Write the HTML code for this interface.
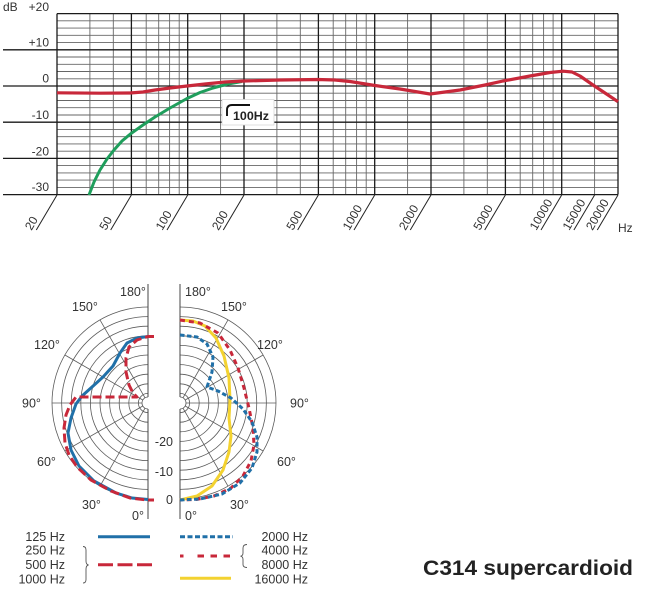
<!DOCTYPE html>
<html>
<head>
<meta charset="utf-8">
<style>
  html,body{margin:0;padding:0;background:#fff;}
  svg{display:block;font-family:"Liberation Sans",Arial,sans-serif;}
</style>
</head>
<body>
<svg width="650" height="600" viewBox="0 0 650 600" xmlns="http://www.w3.org/2000/svg">
  <rect width="650" height="600" fill="#fff"/>

  <!-- ===== Frequency response chart ===== -->
  <g stroke="#666" stroke-width="0.9" fill="none">
    <!-- minor horizontal -->
    <line x1="57" y1="20.8" x2="618" y2="20.8"/>
    <line x1="57" y1="28.1" x2="618" y2="28.1"/>
    <line x1="57" y1="35.3" x2="618" y2="35.3"/>
    <line x1="57" y1="42.6" x2="618" y2="42.6"/>
    <line x1="57" y1="57.0" x2="618" y2="57.0"/>
    <line x1="57" y1="64.3" x2="618" y2="64.3"/>
    <line x1="57" y1="71.5" x2="618" y2="71.5"/>
    <line x1="57" y1="78.8" x2="618" y2="78.8"/>
    <line x1="57" y1="93.2" x2="618" y2="93.2"/>
    <line x1="57" y1="100.5" x2="618" y2="100.5"/>
    <line x1="57" y1="107.7" x2="618" y2="107.7"/>
    <line x1="57" y1="115.0" x2="618" y2="115.0"/>
    <line x1="57" y1="129.4" x2="618" y2="129.4"/>
    <line x1="57" y1="136.7" x2="618" y2="136.7"/>
    <line x1="57" y1="143.9" x2="618" y2="143.9"/>
    <line x1="57" y1="151.2" x2="618" y2="151.2"/>
    <line x1="57" y1="165.6" x2="618" y2="165.6"/>
    <line x1="57" y1="172.9" x2="618" y2="172.9"/>
    <line x1="57" y1="180.1" x2="618" y2="180.1"/>
    <line x1="57" y1="187.4" x2="618" y2="187.4"/>
    <!-- minor vertical -->
    <line x1="89.9" y1="13.6" x2="89.9" y2="194.6"/>
    <line x1="113.3" y1="13.6" x2="113.3" y2="194.6"/>
    <line x1="146.2" y1="13.6" x2="146.2" y2="194.6"/>
    <line x1="158.7" y1="13.6" x2="158.7" y2="194.6"/>
    <line x1="169.6" y1="13.6" x2="169.6" y2="194.6"/>
    <line x1="179.2" y1="13.6" x2="179.2" y2="194.6"/>
    <line x1="220.6" y1="13.6" x2="220.6" y2="194.6"/>
    <line x1="276.9" y1="13.6" x2="276.9" y2="194.6"/>
    <line x1="300.3" y1="13.6" x2="300.3" y2="194.6"/>
    <line x1="333.2" y1="13.6" x2="333.2" y2="194.6"/>
    <line x1="345.7" y1="13.6" x2="345.7" y2="194.6"/>
    <line x1="356.6" y1="13.6" x2="356.6" y2="194.6"/>
    <line x1="366.2" y1="13.6" x2="366.2" y2="194.6"/>
    <line x1="407.6" y1="13.6" x2="407.6" y2="194.6"/>
    <line x1="463.9" y1="13.6" x2="463.9" y2="194.6"/>
    <line x1="487.3" y1="13.6" x2="487.3" y2="194.6"/>
    <line x1="520.2" y1="13.6" x2="520.2" y2="194.6"/>
    <line x1="532.7" y1="13.6" x2="532.7" y2="194.6"/>
    <line x1="543.6" y1="13.6" x2="543.6" y2="194.6"/>
    <line x1="553.1" y1="13.6" x2="553.1" y2="194.6"/>
    <line x1="594.6" y1="13.6" x2="594.6" y2="194.6"/>
  </g>
  <g stroke="#1a1a1a" stroke-width="1.3" fill="none">
    <!-- major horizontal -->
    <line x1="57" y1="13.6" x2="618" y2="13.6"/>
    <line x1="3" y1="49.8" x2="618" y2="49.8"/>
    <line x1="3" y1="86" x2="618" y2="86"/>
    <line x1="3" y1="122.2" x2="618" y2="122.2"/>
    <line x1="3" y1="158.4" x2="618" y2="158.4"/>
    <line x1="3" y1="194.6" x2="618" y2="194.6"/>
    <!-- major vertical -->
    <line x1="57" y1="13.6" x2="57" y2="194.6"/>
    <line x1="131.4" y1="13.6" x2="131.4" y2="194.6"/>
    <line x1="187.7" y1="13.6" x2="187.7" y2="194.6"/>
    <line x1="244" y1="13.6" x2="244" y2="194.6"/>
    <line x1="318.4" y1="13.6" x2="318.4" y2="194.6"/>
    <line x1="374.7" y1="13.6" x2="374.7" y2="194.6"/>
    <line x1="431" y1="13.6" x2="431" y2="194.6"/>
    <line x1="505.4" y1="13.6" x2="505.4" y2="194.6"/>
    <line x1="561.7" y1="13.6" x2="561.7" y2="194.6"/>
    <line x1="618" y1="13.6" x2="618" y2="194.6"/>
  </g>
  <!-- tick slashes -->
  <g stroke="#222" stroke-width="1" fill="none">
    <line x1="57" y1="195" x2="36.3" y2="230"/>
    <line x1="131.4" y1="195" x2="110.7" y2="230"/>
    <line x1="187.7" y1="195" x2="167" y2="230"/>
    <line x1="244" y1="195" x2="223.3" y2="230"/>
    <line x1="318.4" y1="195" x2="297.7" y2="230"/>
    <line x1="374.7" y1="195" x2="354" y2="230"/>
    <line x1="431" y1="195" x2="410.3" y2="230"/>
    <line x1="505.4" y1="195" x2="484.7" y2="230"/>
    <line x1="561.7" y1="195" x2="541" y2="230"/>
    <line x1="594.6" y1="195" x2="573.9" y2="230"/>
    <line x1="618" y1="195" x2="597.3" y2="230"/>
  </g>
  <g font-size="12" fill="#333">
    <text transform="translate(31.5,231) rotate(-60)">20</text>
    <text transform="translate(105.9,231) rotate(-60)">50</text>
    <text transform="translate(162.2,231) rotate(-60)">100</text>
    <text transform="translate(218.5,231) rotate(-60)">200</text>
    <text transform="translate(292.9,231) rotate(-60)">500</text>
    <text transform="translate(349.2,231) rotate(-60)">1000</text>
    <text transform="translate(405.5,231) rotate(-60)">2000</text>
    <text transform="translate(479.9,231) rotate(-60)">5000</text>
    <text transform="translate(536.2,231) rotate(-60)">10000</text>
    <text transform="translate(569.1,231) rotate(-60)">15000</text>
    <text transform="translate(592.5,231) rotate(-60)">20000</text>
    <text x="618" y="232">Hz</text>
    <text x="3" y="11">dB</text>
    <text x="49" y="11" text-anchor="end">+20</text>
    <text x="49" y="46.5" text-anchor="end">+10</text>
    <text x="49" y="82.5" text-anchor="end">0</text>
    <text x="49" y="119" text-anchor="end">-10</text>
    <text x="49" y="155.5" text-anchor="end">-20</text>
    <text x="49" y="191" text-anchor="end">-30</text>
  </g>
  <!-- 100Hz label -->
  <rect x="222" y="99.5" width="52" height="25.5" fill="#fff" stroke="#d8d8d8" stroke-width="0.8"/>
  <path d="M227,116 L227,110 Q227,105 232,105 L250,105" stroke="#111" stroke-width="1.9" fill="none"/>
  <text x="233" y="120" font-size="12" font-weight="bold" fill="#222" textLength="36" lengthAdjust="spacingAndGlyphs">100Hz</text>

  <!-- curves -->
  <polyline fill="none" stroke="#1f9e5c" stroke-width="3" stroke-linejoin="round"
    points="89,195 94,182 100,170 107,159 114,150 122,141 131,133.5 143,125 155,117 170,108 187,98.5 200,92.5 213,88 228,84 242,81.5"/>
  <polyline fill="none" stroke="#c8283a" stroke-width="3.2" stroke-linejoin="round"
    points="57,92.8 100,93.2 130,93 143,92 155,90 170,88 187,86 205,84 225,82 244,81 280,80 318,79.5 335,80 350,81.5 375,85.5 400,89 430,94 460,90 485,85 503,81 530,76 550,72.5 563,71.2 572,72 580,76 593,85 605,93 618,101.7"/>

  <!-- ===== Polar plots ===== -->
  <g stroke="#5a5a5a" stroke-width="0.8" fill="none">
    <!-- left rings -->
    <path d="M148,393.4 A9.6,9.6 0 0 0 148,412.6"/>
    <path d="M148,383.8 A19.2,19.2 0 0 0 148,422.2"/>
    <path d="M148,374.2 A28.8,28.8 0 0 0 148,431.8"/>
    <path d="M148,364.6 A38.4,38.4 0 0 0 148,441.4"/>
    <path d="M148,355 A48,48 0 0 0 148,451"/>
    <path d="M148,345.4 A57.6,57.6 0 0 0 148,460.6"/>
    <path d="M148,335.8 A67.2,67.2 0 0 0 148,470.2"/>
    <path d="M148,326.2 A76.8,76.8 0 0 0 148,479.8"/>
    <path d="M148,316.6 A86.4,86.4 0 0 0 148,489.4"/>
    <path d="M148,307 A96,96 0 0 0 148,499"/>
    <!-- left rays -->
    <line x1="145" y1="408.2" x2="100" y2="486.1"/>
    <line x1="142.8" y1="406" x2="64.9" y2="451"/>
    <line x1="142" y1="403" x2="52" y2="403"/>
    <line x1="142.8" y1="400" x2="64.9" y2="355"/>
    <line x1="145" y1="397.8" x2="100" y2="319.9"/>
    <!-- right rings -->
    <path d="M180,393.4 A9.6,9.6 0 0 1 180,412.6"/>
    <path d="M180,383.8 A19.2,19.2 0 0 1 180,422.2"/>
    <path d="M180,374.2 A28.8,28.8 0 0 1 180,431.8"/>
    <path d="M180,364.6 A38.4,38.4 0 0 1 180,441.4"/>
    <path d="M180,355 A48,48 0 0 1 180,451"/>
    <path d="M180,345.4 A57.6,57.6 0 0 1 180,460.6"/>
    <path d="M180,335.8 A67.2,67.2 0 0 1 180,470.2"/>
    <path d="M180,326.2 A76.8,76.8 0 0 1 180,479.8"/>
    <path d="M180,316.6 A86.4,86.4 0 0 1 180,489.4"/>
    <path d="M180,307 A96,96 0 0 1 180,499"/>
    <!-- right rays -->
    <line x1="183" y1="408.2" x2="228" y2="486.1"/>
    <line x1="185.2" y1="406" x2="263.1" y2="451"/>
    <line x1="186" y1="403" x2="276" y2="403"/>
    <line x1="185.2" y1="400" x2="263.1" y2="355"/>
    <line x1="183" y1="397.8" x2="228" y2="319.9"/>
  </g>
  <!-- vertical axes -->
  <g stroke="#444" stroke-width="1" fill="none">
    <line x1="148" y1="284" x2="148" y2="519"/>
    <line x1="180" y1="284" x2="180" y2="519"/>
  </g>
  <circle cx="148" cy="403" r="6" fill="#fff"/>
  <circle cx="180" cy="403" r="6" fill="#fff"/>
  <path d="M148,397 A6,6 0 0 0 148,409" stroke="#555" stroke-width="0.8" fill="none"/>
  <path d="M180,397 A6,6 0 0 1 180,409" stroke="#555" stroke-width="0.8" fill="none"/>

  <!-- left curves -->
  <polyline fill="none" stroke="#2070a8" stroke-width="3" stroke-linejoin="round"
    points="148,336.5 137,338 127,343 120,353 113,366 103,377 92,387 82,396 76,404 71,418 68,433 71,450 79,466 94,481 116,493 132,498 148,499.5"/>
  <polyline fill="none" stroke="#c8283a" stroke-width="3" stroke-linejoin="round" stroke-dasharray="9 4"
    points="154,336.5 148,336.5 137,340 129,347 126,358 126,372 129,385 133,393 137,397 76,397 70,405 66,415 64,428 65,443 69,455 77,467 91,480 111,491 130,498 148,500 154,500"/>

  <!-- right curves -->
  <polyline fill="none" stroke="#f3d230" stroke-width="3" stroke-linejoin="round"
    points="180,320 193,321 205,326 216,338 224,356 229,378 230,400 229,418 231,436 229,452 223,470 212,486 197,496 180,500"/>
  <polyline fill="none" stroke="#c8283a" stroke-width="3" stroke-linejoin="round" stroke-dasharray="5 4"
    points="180,320 200,323 218,333 230,350 238,368 244,388 249,408 253,428 254,445 251,461 243,476 231,488 214,496 196,499.5 180,500"/>
  <polyline fill="none" stroke="#2070a8" stroke-width="3" stroke-linejoin="round" stroke-dasharray="4.5 2.5"
    points="180,335 197,337 207,344 213,357 212,372 207,387 218,391 231,398 243,409 252,422 257,437 257,452 252,468 240,483 222,494 200,499 180,500"/>

  <!-- polar labels -->
  <g font-size="12.5" fill="#333">
    <text x="120" y="296">180°</text>
    <text x="72" y="311">150°</text>
    <text x="34" y="349">120°</text>
    <text x="22" y="407.5">90°</text>
    <text x="37" y="466">60°</text>
    <text x="82" y="509">30°</text>
    <text x="132" y="520">0°</text>
    <text x="185" y="296">180°</text>
    <text x="221" y="311">150°</text>
    <text x="257" y="349">120°</text>
    <text x="290" y="407.5">90°</text>
    <text x="277" y="466">60°</text>
    <text x="230" y="509">30°</text>
    <text x="185" y="520">0°</text>
    <text x="173" y="446" text-anchor="end">-20</text>
    <text x="173" y="476" text-anchor="end">-10</text>
    <text x="173" y="504" text-anchor="end">0</text>
  </g>

  <!-- ===== Legend ===== -->
  <g font-size="12.5" fill="#333">
    <text x="65" y="541" text-anchor="end">125 Hz</text>
    <text x="65" y="554.5" text-anchor="end">250 Hz</text>
    <text x="65" y="569" text-anchor="end">500 Hz</text>
    <text x="65" y="583.5" text-anchor="end">1000 Hz</text>
    <text x="308" y="541" text-anchor="end">2000 Hz</text>
    <text x="308" y="554.5" text-anchor="end">4000 Hz</text>
    <text x="308" y="569" text-anchor="end">8000 Hz</text>
    <text x="308" y="583.5" text-anchor="end">16000 Hz</text>
  </g>
  <!-- braces -->
  <path d="M83,546.5 Q86,546.5 86,550 L86,561 Q86,564.5 88.5,565 Q86,565.5 86,569 L86,579.5 Q86,583 83,583" stroke="#555" stroke-width="0.9" fill="none"/>
  <path d="M247,544.5 Q243,544.5 243,548 L243,553 Q243,555.8 240.5,556.2 Q243,556.6 243,559.5 L243,564.5 Q243,567.5 247,567.5" stroke="#555" stroke-width="0.9" fill="none"/>
  <!-- legend lines -->
  <line x1="98" y1="536.7" x2="150" y2="536.7" stroke="#2070a8" stroke-width="3"/>
  <line x1="98" y1="564.7" x2="152" y2="564.7" stroke="#c8283a" stroke-width="3" stroke-dasharray="15 4.5"/>
  <line x1="180" y1="536.7" x2="233" y2="536.7" stroke="#2070a8" stroke-width="3" stroke-dasharray="5 2.5"/>
  <line x1="180" y1="556" x2="231" y2="556" stroke="#c8283a" stroke-width="3" stroke-dasharray="3.5 14 6.5 6.5 6.5 6.5 6.5 6.5"/>
  <line x1="180" y1="578.3" x2="231" y2="578.3" stroke="#f3d230" stroke-width="3"/>

  <!-- title -->
  <text x="423" y="575" font-size="21" font-weight="bold" fill="#222" textLength="210" lengthAdjust="spacingAndGlyphs">C314 supercardioid</text>
</svg>
</body>
</html>
